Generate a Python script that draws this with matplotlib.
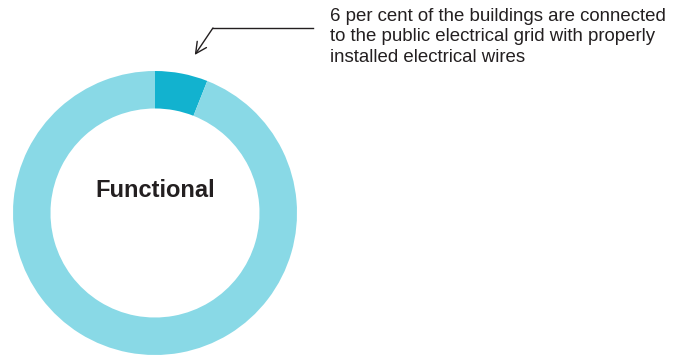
import matplotlib
matplotlib.use("Agg")
import matplotlib.pyplot as plt

plt.rcParams['font.family'] = ['Liberation Sans', 'DejaVu Sans']

labels = ["Connected with proper wiring", "Other"]
values = [6, 94]
colors = ["#12B2CF", "#89D9E6"]
center_label = "Functional"
note = ("6 per cent of the buildings are connected\n"
        "to the public electrical grid with properly\n"
        "installed electrical wires")

W, H = 685, 356
fig = plt.figure(figsize=(W / 100, H / 100), dpi=100)

cx, cy, R = 155, 213, 142
ax = fig.add_axes([(cx - R) / W, (H - cy - R) / H, 2 * R / W, 2 * R / H])
ax.pie(values, colors=colors, startangle=90, counterclock=False, radius=1,
       wedgeprops=dict(width=0.264, linewidth=0))
ax.set_xlim(-1, 1)
ax.set_ylim(-1, 1)
ax.set_aspect('equal')
ax.axis('off')

ax.text(0, 0.16, center_label, ha='center', va='center', fontsize=17,
        fontweight='bold', color='#231F20')

# leader line
ax.plot([1.113, 0.408], [1.303, 1.303], color='#231F20', lw=1.0, clip_on=False)
ax.annotate("", xy=(0.28, 1.113), xytext=(0.408, 1.303),
            arrowprops=dict(arrowstyle='->', color='#231F20', lw=1.0,
                            shrinkA=0, shrinkB=0, mutation_scale=20),
            annotation_clip=False)

fig.text(330 / W, 1 - 8 / H, note, ha='left', va='top', fontsize=13.4,
         color='#231F20', linespacing=1.26)

fig.savefig("out.png", dpi=100)
